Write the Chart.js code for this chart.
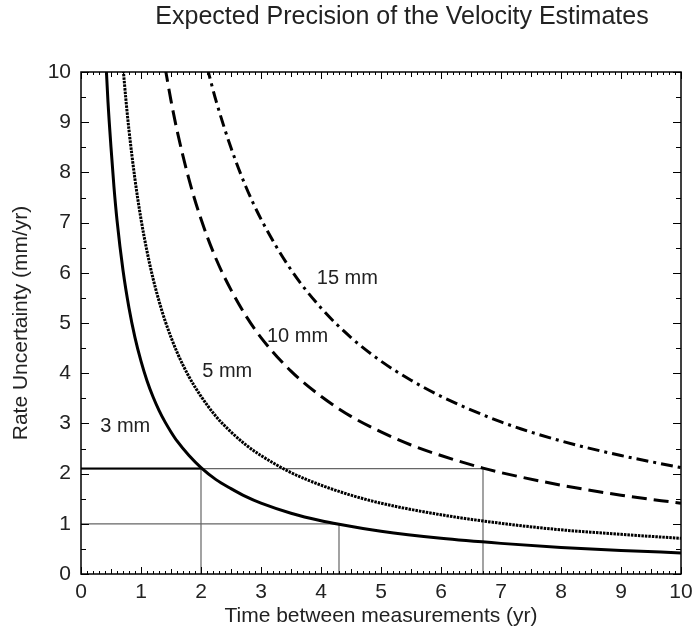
<!DOCTYPE html>
<html>
<head>
<meta charset="utf-8">
<script src="https://cdn.jsdelivr.net/npm/chart.js@4.4.1/dist/chart.umd.min.js"></script>
<style>
  html, body { margin: 0; padding: 0; background: #fff; }
  canvas { display: block; }
</style>
</head>
<body>
<canvas id="precChart" width="693" height="633"></canvas>
<script>
const chartTitle = 'Expected Precision of the Velocity Estimates';
const seriesNames = ['3 mm', '5 mm', '10 mm', '15 mm'];

const years3 = [0.42, 0.45, 0.5, 0.55, 0.6, 0.7, 0.8, 0.9, 1.0, 1.1, 1.2, 1.3, 1.4, 1.5, 1.6, 1.8, 2.0, 2.25, 2.5, 2.75, 3.0, 3.5, 4.0, 4.3, 5.0, 6.0, 7.0, 8.0, 9.0, 10.0];
const rate3  = [10.1, 9.4, 8.5, 7.7, 7.05, 6.05, 5.3, 4.71, 4.24, 3.85, 3.53, 3.26, 3.03, 2.83, 2.65, 2.36, 2.12, 1.88, 1.7, 1.54, 1.41, 1.21, 1.06, 0.99, 0.85, 0.71, 0.61, 0.53, 0.47, 0.42];

const years5 = [0.7, 0.75, 0.8, 0.9, 1.0, 1.1, 1.2, 1.3, 1.4, 1.6, 1.8, 2.0, 2.25, 2.5, 2.75, 3.0, 3.5, 4.0, 4.5, 5.0, 6.0, 7.0, 8.0, 9.0, 10.0];
const rate5  = [10.1, 9.43, 8.84, 7.86, 7.07, 6.43, 5.89, 5.44, 5.05, 4.42, 3.93, 3.54, 3.14, 2.83, 2.57, 2.36, 2.02, 1.77, 1.57, 1.41, 1.18, 1.01, 0.88, 0.79, 0.71];

const years10 = [1.4, 1.5, 1.6, 1.8, 2.0, 2.25, 2.5, 2.75, 3.0, 3.5, 4.0, 4.5, 5.0, 5.5, 6.0, 6.7, 7.0, 8.0, 9.0, 10.0];
const rate10  = [10.1, 9.43, 8.84, 7.86, 7.07, 6.28, 5.66, 5.14, 4.71, 4.04, 3.54, 3.14, 2.83, 2.57, 2.36, 2.11, 2.02, 1.77, 1.57, 1.41];

const years15 = [2.1, 2.25, 2.5, 2.75, 3.0, 3.5, 4.0, 4.5, 5.0, 5.5, 6.0, 7.0, 8.0, 9.0, 10.0];
const rate15  = [10.1, 9.43, 8.49, 7.71, 7.07, 6.06, 5.3, 4.71, 4.24, 3.86, 3.54, 3.03, 2.65, 2.36, 2.12];

// read-off guides: (years, rate)
const guideYears = [2.0, 4.3, 6.7];
const guideRates = [2.1, 1.0, 2.1];

// where the curve labels sit (data units, left edge / middle)
const labelAnchorX = [0.32, 2.02, 3.1, 3.93];
const labelAnchorY = [2.93, 4.04, 4.74, 5.88];

const xTicks = [0, 1, 2, 3, 4, 5, 6, 7, 8, 9, 10];
const yTicks = [0, 1, 2, 3, 4, 5, 6, 7, 8, 9, 10];

const pts = (xs, ys) => xs.map((v, i) => ({ x: v, y: ys[i] }));
const font = "'Liberation Sans', Arial, sans-serif";
const txt = '#222';

const curveDash = [[], [2.5, 1], [15, 7], [12, 5, 3, 5]];
const curves = [[years3, rate3], [years5, rate5], [years10, rate10], [years15, rate15]];

const datasets = curves.map((c, i) => ({
  label: seriesNames[i],
  data: pts(c[0], c[1]),
  borderColor: '#000',
  borderWidth: 3,
  borderDash: curveDash[i],
  pointRadius: 0,
  cubicInterpolationMode: 'monotone',
  order: 1
}));

guideYears.forEach((yr, i) => {
  datasets.push({
    data: [{ x: 0, y: guideRates[i] }, { x: yr, y: guideRates[i] }, { x: yr, y: 0 }],
    borderColor: '#666', borderWidth: 1.2, pointRadius: 0, tension: 0, order: 5
  });
});
// darker left part of the 2.1 guide
datasets.push({
  data: [{ x: 0, y: guideRates[0] }, { x: guideYears[0], y: guideRates[0] }],
  borderColor: '#000', borderWidth: 2, pointRadius: 0, tension: 0, order: 4
});

const framePlugin = {
  id: 'frame',
  afterDatasetsDraw(chart) {
    const { ctx, chartArea: a, scales: { x, y } } = chart;
    ctx.save();
    ctx.strokeStyle = '#000';
    ctx.lineWidth = 1;
    ctx.beginPath();
    for (let i = 0; i <= 100; i++) {
      const px = Math.round(x.getPixelForValue(i / 10)) + 0.5;
      const len = i % 10 === 0 ? 7 : (i % 5 === 0 ? 5 : 3);
      ctx.moveTo(px, a.bottom); ctx.lineTo(px, a.bottom - len);
      ctx.moveTo(px, a.top); ctx.lineTo(px, a.top + len);
    }
    for (let i = 0; i <= 20; i++) {
      const py = Math.round(y.getPixelForValue(i / 2)) + 0.5;
      const len = i % 2 === 0 ? 8 : 5;
      ctx.moveTo(a.left, py); ctx.lineTo(a.left + len, py);
      ctx.moveTo(a.right, py); ctx.lineTo(a.right - len, py);
    }
    ctx.stroke();
    ctx.lineWidth = 1.5;
    ctx.strokeRect(a.left, a.top, a.width, a.height);

    ctx.fillStyle = txt;
    ctx.font = '20px ' + font;
    ctx.textAlign = 'left';
    ctx.textBaseline = 'middle';
    seriesNames.forEach((n, i) => {
      ctx.fillText(n, x.getPixelForValue(labelAnchorX[i]), y.getPixelForValue(labelAnchorY[i]));
    });

    ctx.font = '25px ' + font;
    ctx.textAlign = 'center';
    ctx.fillText(chartTitle, 402, 17);
    ctx.restore();
  }
};

new Chart(document.getElementById('precChart'), {
  type: 'line',
  data: { datasets },
  options: {
    responsive: false,
    animation: false,
    layout: { padding: { top: 72, right: 12, left: 0, bottom: 2 } },
    plugins: { legend: { display: false }, tooltip: { enabled: false }, title: { display: false } },
    scales: {
      x: {
        type: 'linear', min: 0, max: 10,
        afterBuildTicks: s => { s.ticks = xTicks.map(v => ({ value: v })); },
        grid: { display: false, drawTicks: false },
        border: { display: false },
        ticks: { color: txt, font: { family: font, size: 21 }, padding: 6, maxRotation: 0 },
        title: { display: true, text: 'Time between measurements (yr)', color: txt, font: { family: font, size: 21 }, padding: { top: 0, bottom: 2 } },
        afterFit: s => { s.height = 57; s.paddingLeft = 0; s.paddingRight = 0; }
      },
      y: {
        type: 'linear', min: 0, max: 10,
        afterBuildTicks: s => { s.ticks = yTicks.map(v => ({ value: v })); },
        grid: { display: false, drawTicks: false },
        border: { display: false },
        ticks: { color: txt, font: { family: font, size: 21 }, padding: 10 },
        title: { display: true, text: 'Rate Uncertainty (mm/yr)', color: txt, font: { family: font, size: 21 }, padding: { top: 9, bottom: 0 } },
        afterFit: s => { s.width = 81; s.paddingTop = 0; s.paddingBottom = 0; }
      }
    }
  },
  plugins: [framePlugin]
});
</script>
</body>
</html>
